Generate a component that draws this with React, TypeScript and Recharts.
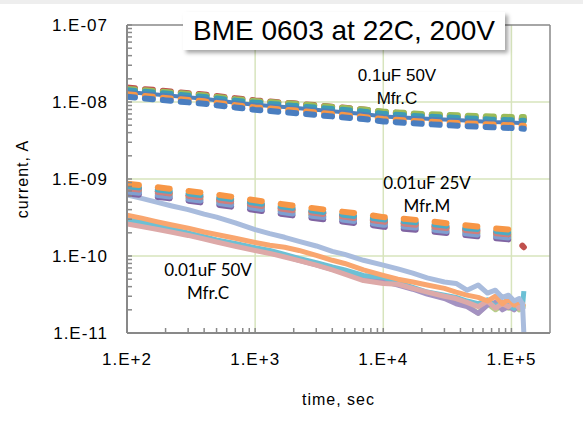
import React from "react";
import { LineChart, Line, XAxis, YAxis, CartesianGrid, ReferenceLine } from "recharts";

// coarse sampling for the dashed (smooth) curves
const coarseTimes = [100, 200, 400, 700, 1000, 2000, 4000, 7000, 10000, 20000, 40000, 70000, 100000, 125000];
// finer sampling for the noisy solid curves
const fineTimes = [
  100, 130, 170, 220, 300, 400, 500, 700, 1000, 1300, 1700, 2200, 3000, 4000, 5000, 7000,
  10000, 13000, 17000, 22000, 30000, 37000, 45000, 55000, 65000, 75000, 85000, 95000, 105000, 115000, 122000, 125000,
];

// 0.1uF 50V Mfr.C
const a1Red = [1.54e-8, 1.39e-8, 1.25e-8, 1.12e-8, 1.05e-8, 9.6e-9, 8.7e-9, 8.0e-9, 7.4e-9, 6.9e-9, 6.5e-9, 6.2e-9, 6.1e-9, 6.0e-9];
const a2Green = [1.48e-8, 1.35e-8, 1.22e-8, 1.09e-8, 1.03e-8, 9.5e-9, 8.6e-9, 8.0e-9, 7.5e-9, 7.0e-9, 6.7e-9, 6.5e-9, 6.4e-9, 6.4e-9];
const a3Teal = [1.42e-8, 1.29e-8, 1.16e-8, 1.04e-8, 9.8e-9, 8.9e-9, 8.1e-9, 7.5e-9, 7.0e-9, 6.5e-9, 6.2e-9, 5.9e-9, 5.8e-9, 5.7e-9];
const a4Blue = [1.35e-8, 1.22e-8, 1.1e-8, 9.8e-9, 9.2e-9, 8.4e-9, 7.6e-9, 7.0e-9, 6.5e-9, 6.1e-9, 5.8e-9, 5.5e-9, 5.4e-9, 5.3e-9];
const a5Orange = [1.26e-8, 1.13e-8, 1.02e-8, 9.1e-9, 8.5e-9, 7.8e-9, 7.0e-9, 6.4e-9, 6.0e-9, 5.6e-9, 5.3e-9, 5.1e-9, 5.0e-9, 4.9e-9];
const a6Blue = [1.17e-8, 1.05e-8, 9.5e-9, 8.5e-9, 7.9e-9, 7.2e-9, 6.5e-9, 6.0e-9, 5.6e-9, 5.2e-9, 4.9e-9, 4.7e-9, 4.6e-9, 4.5e-9];

// 0.01uF 25V Mfr.M
const b1Orange = [8.7e-10, 7.6e-10, 6.6e-10, 5.8e-10, 5.3e-10, 4.5e-10, 3.9e-10, 3.5e-10, 3.2e-10, 2.9e-10, 2.55e-10, 2.3e-10, 2.2e-10, 1.8e-10];
const b2Teal = [8.1e-10, 7.1e-10, 6.1e-10, 5.4e-10, 4.9e-10, 4.2e-10, 3.6e-10, 3.2e-10, 3.0e-10, 2.7e-10, 2.35e-10, 2.15e-10, 2.0e-10, 1.7e-10];
const b3Red = [7.8e-10, 6.7e-10, 5.8e-10, 5.1e-10, 4.7e-10, 4.0e-10, 3.5e-10, 3.05e-10, 2.85e-10, 2.55e-10, 2.25e-10, 2.05e-10, 1.9e-10, 1.3e-10];
const b4Pink = [7.6e-10, 6.6e-10, 5.7e-10, 5.0e-10, 4.6e-10, 3.9e-10, 3.4e-10, 3.0e-10, 2.8e-10, 2.5e-10, 2.2e-10, 2.0e-10, 1.9e-10, 1.55e-10];
const b5Green = [7.2e-10, 6.3e-10, 5.4e-10, 4.75e-10, 4.4e-10, 3.7e-10, 3.2e-10, 2.85e-10, 2.65e-10, 2.35e-10, 2.1e-10, 1.9e-10, 1.8e-10, 1.5e-10];
const b6Blue = [6.9e-10, 6.0e-10, 5.2e-10, 4.55e-10, 4.2e-10, 3.55e-10, 3.1e-10, 2.75e-10, 2.55e-10, 2.3e-10, 2.0e-10, 1.82e-10, 1.73e-10, 1.6e-10];
const b7Purple = [6.5e-10, 5.7e-10, 4.9e-10, 4.3e-10, 3.95e-10, 3.35e-10, 2.9e-10, 2.6e-10, 2.4e-10, 2.15e-10, 1.9e-10, 1.72e-10, 1.63e-10, 1.45e-10];

// 0.01uF 50V Mfr.C
const c1LightBlue = [6.2e-10, 5.6e-10, 5.0e-10, 4.5e-10, 4.0e-10, 3.5e-10, 3.2e-10, 2.7e-10, 2.2e-10, 1.95e-10, 1.75e-10, 1.55e-10, 1.35e-10, 1.15e-10, 1.05e-10, 8.8e-11, 7.6e-11, 6.8e-11, 6.0e-11, 5.2e-11, 4.6e-11, 4.4e-11, 3.6e-11, 4.2e-11, 3.3e-11, 3.6e-11, 2.9e-11, 3.1e-11, 2.6e-11, 2.8e-11, 2.4e-11, 1.0e-11];
const c2Orange = [3.4e-10, 3.1e-10, 2.8e-10, 2.55e-10, 2.3e-10, 2.05e-10, 1.9e-10, 1.7e-10, 1.5e-10, 1.38e-10, 1.3e-10, 1.18e-10, 1.02e-10, 8.8e-11, 8.0e-11, 6.6e-11, 5.6e-11, 5.0e-11, 4.6e-11, 4.2e-11, 3.8e-11, 3.4e-11, 3.1e-11, 2.9e-11, 2.6e-11, 3.0e-11, 2.4e-11, 2.8e-11, 2.3e-11, 2.6e-11, 2.4e-11, 2.2e-11];
const c3Teal = [3.0e-10, 2.75e-10, 2.5e-10, 2.25e-10, 2.0e-10, 1.78e-10, 1.62e-10, 1.45e-10, 1.28e-10, 1.18e-10, 1.05e-10, 9.3e-11, 8.2e-11, 7.2e-11, 6.6e-11, 5.6e-11, 5.3e-11, 4.5e-11, 3.9e-11, 3.4e-11, 3.1e-11, 2.9e-11, 2.6e-11, 2.4e-11, 2.7e-11, 2.2e-11, 2.5e-11, 2.3e-11, 2.1e-11, 2.4e-11, 2.2e-11, 3.5e-11];
const c4Green = [2.9e-10, 2.65e-10, 2.42e-10, 2.2e-10, 1.95e-10, 1.74e-10, 1.58e-10, 1.4e-10, 1.24e-10, 1.13e-10, 1.02e-10, 9.0e-11, 7.9e-11, 6.9e-11, 6.2e-11, 5.3e-11, 4.8e-11, 4.3e-11, 3.8e-11, 3.3e-11, 2.9e-11, 2.6e-11, 2.3e-11, 1.8e-11, 2.4e-11, 2.0e-11, 2.3e-11, 2.1e-11, 2.4e-11, 2.0e-11, 2.3e-11, 2.1e-11];
const c5Purple = [2.8e-10, 2.58e-10, 2.36e-10, 2.14e-10, 1.9e-10, 1.7e-10, 1.55e-10, 1.37e-10, 1.22e-10, 1.1e-10, 1.0e-10, 8.8e-11, 7.7e-11, 6.7e-11, 6.0e-11, 5.1e-11, 4.7e-11, 4.2e-11, 3.7e-11, 3.2e-11, 2.8e-11, 2.4e-11, 2.2e-11, 1.8e-11, 2.3e-11, 2.5e-11, 2.0e-11, 2.2e-11, 2.0e-11, 2.3e-11, 2.1e-11, 2.0e-11];
const c6Pink = [2.6e-10, 2.42e-10, 2.23e-10, 2.05e-10, 1.85e-10, 1.66e-10, 1.52e-10, 1.34e-10, 1.18e-10, 1.08e-10, 9.7e-11, 8.7e-11, 7.6e-11, 6.6e-11, 5.8e-11, 4.8e-11, 4.4e-11, 4.3e-11, 3.8e-11, 3.4e-11, 3.0e-11, 2.8e-11, 2.5e-11, 2.2e-11, 2.6e-11, 2.1e-11, 2.4e-11, 2.2e-11, 2.5e-11, 2.1e-11, 2.3e-11, 2.2e-11];

// axis ticks
const xMajor = [100, 1000, 10000, 100000];
const yMajor = [1e-11, 1e-10, 1e-9, 1e-8, 1e-7];
const minorSteps = [2, 3, 4, 5, 6, 7, 8, 9];
const xTicks = [...xMajor, ...xMajor.slice(0, 3).flatMap((d) => minorSteps.map((m) => m * d))];
const yTicks = [...yMajor, ...yMajor.slice(0, 4).flatMap((d) => minorSteps.map((m) => m * d))];

const rows = (times: number[], values: number[]) => times.map((t, i) => ({ t, v: values[i] }));

const dashedA = [
  { name: "a1", color: "#C0504D", values: a1Red },
  { name: "a2", color: "#9BBB59", values: a2Green },
  { name: "a3", color: "#3D9CB4", values: a3Teal },
  { name: "a5", color: "#F79646", values: a5Orange },
  { name: "a6", color: "#4A7EC0", values: a6Blue },
];
const dashedB = [
  { name: "b5", color: "#9BBB59", values: b5Green },
  { name: "b7", color: "#8064A2", values: b7Purple },
  { name: "b6", color: "#7F9FD0", values: b6Blue },
  { name: "b3", color: "#C0504D", values: b3Red },
  { name: "b4", color: "#D07E7C", values: b4Pink },
  { name: "b2", color: "#4BACC6", values: b2Teal },
  { name: "b1", color: "#F79646", values: b1Orange },
];
const solidC = [
  { name: "c4", color: "#B7CF8A", values: c4Green },
  { name: "c5", color: "#A492C1", values: c5Purple },
  { name: "c3", color: "#6CC0D5", values: c3Teal },
  { name: "c6", color: "#DDA9A8", values: c6Pink },
  { name: "c2", color: "#F9A66F", values: c2Orange },
  { name: "c1", color: "#A9BCDD", values: c1LightBlue },
];

const axisGray = "#898989";
const tickFont = { fontFamily: "'Liberation Sans', Arial, sans-serif", fontSize: 17, letterSpacing: 1, fill: "#000" };

const XTick = (props: any) => {
  const { x, y, payload } = props;
  const v = payload.value;
  const major = xMajor.includes(v);
  return (
    <g>
      <line x1={x} x2={x} y1={y} y2={y - 5} stroke={axisGray} strokeWidth={1.5} />
      {major && (
        <text x={x} y={y + 32} textAnchor="middle" style={tickFont}>
          {`1.E+${Math.round(Math.log10(v))}`}
        </text>
      )}
    </g>
  );
};

const YTick = (props: any) => {
  const { x, y, payload } = props;
  const v = payload.value;
  const major = yMajor.includes(v);
  const exp = -Math.round(Math.log10(v));
  return (
    <g>
      <line x1={x} x2={x + 5} y1={y} y2={y} stroke={axisGray} strokeWidth={1.5} />
      {major && (
        <text x={x - 19} y={y} dy="0.36em" textAnchor="end" style={tickFont}>
          {`1.E-${String(exp).padStart(2, "0")}`}
        </text>
      )}
    </g>
  );
};

const noteStyle = (cx: number, top: number, font: string): React.CSSProperties => ({
  position: "absolute",
  left: cx - 70,
  top,
  width: 140,
  textAlign: "center",
  fontFamily: font,
  fontSize: 17,
  lineHeight: "23px",
  color: "#000",
});

export default function App() {
  return (
    <div style={{ position: "absolute", left: 0, top: 0, width: 583, height: 425, background: "#fff" }}>
      <div style={{ position: "absolute", left: 0, top: 0, width: 583, height: 4, background: "#EEEEEE" }} />
      <LineChart width={583} height={425} margin={{ top: 25, right: 33, bottom: 12, left: 0 }}>
        <CartesianGrid
          stroke="#D7E4BD"
          strokeWidth={1.5}
          horizontalValues={[1e-8, 1e-9, 1e-10]}
          verticalValues={[1000, 10000, 100000]}
        />
        <XAxis
          dataKey="t"
          type="number"
          scale="log"
          domain={[100, 200000]}
          ticks={xTicks}
          interval={0}
          allowDataOverflow
          height={80}
          tickSize={0}
          tickMargin={0}
          tickLine={false}
          tick={<XTick />}
          axisLine={{ stroke: axisGray, strokeWidth: 2 }}
          label={{
            value: "time, sec",
            position: "insideBottom",
            offset: 8,
            style: { fontFamily: "'Liberation Sans', Arial, sans-serif", fontSize: 16, letterSpacing: 1, fill: "#000" },
          }}
        />
        <YAxis
          dataKey="v"
          type="number"
          scale="log"
          domain={[1e-11, 1e-7]}
          ticks={yTicks}
          interval={0}
          allowDataOverflow
          width={127}
          tickSize={0}
          tickMargin={0}
          tickLine={false}
          tick={<YTick />}
          axisLine={{ stroke: axisGray, strokeWidth: 2 }}
          label={{
            value: "current, A",
            angle: -90,
            position: "insideLeft",
            offset: 22,
            style: { textAnchor: "middle", fontFamily: "'Liberation Sans', Arial, sans-serif", fontSize: 16, letterSpacing: 1, fill: "#000" },
          }}
        />
        <ReferenceLine y={1e-7} stroke={axisGray} strokeWidth={1.5} />
        <ReferenceLine x={200000} stroke={axisGray} strokeWidth={1.5} />
        {solidC.map((s) => (
          <Line key={s.name} data={rows(fineTimes, s.values)} dataKey="v" stroke={s.color} strokeWidth={5}
            dot={false} isAnimationActive={false} strokeLinejoin="round" />
        ))}
        {dashedB.map((s) => (
          <Line key={s.name} data={rows(coarseTimes, s.values)} dataKey="v" stroke={s.color} strokeWidth={6}
            strokeDasharray="12 19" strokeLinecap="round" dot={false} isAnimationActive={false} />
        ))}
        {dashedA.slice(0, 3).map((s) => (
          <Line key={s.name} data={rows(coarseTimes, s.values)} dataKey="v" stroke={s.color} strokeWidth={6}
            strokeDasharray="8 10" strokeLinecap="round" dot={false} isAnimationActive={false} />
        ))}
        <Line data={rows(coarseTimes, a4Blue)} dataKey="v" stroke="#4F81BD" strokeWidth={4}
          dot={false} isAnimationActive={false} />
        {dashedA.slice(3).map((s) => (
          <Line key={s.name} data={rows(coarseTimes, s.values)} dataKey="v" stroke={s.color} strokeWidth={6}
            strokeDasharray="8 10" strokeLinecap="round" dot={false} isAnimationActive={false} />
        ))}
      </LineChart>

      <div
        style={{
          position: "absolute",
          left: 183,
          top: 12,
          width: 322,
          height: 38,
          background: "#fff",
          boxShadow: "3px 3px 4px rgba(0,0,0,0.35)",
          fontFamily: "'Liberation Sans', Arial, sans-serif",
          fontSize: 28,
          lineHeight: "38px",
          textAlign: "center",
          color: "#000",
          whiteSpace: "nowrap",
        }}
      >
        BME 0603 at 22C, 200V
      </div>
      <div style={noteStyle(397, 64, "'Liberation Sans', Arial, sans-serif")}>
        0.1uF 50V
        <br />
        Mfr.C
      </div>
      <div style={noteStyle(427, 171, "Lato, sans-serif")}>
        0.01uF 25V
        <br />
        Mfr.M
      </div>
      <div style={noteStyle(208, 258, "Lato, sans-serif")}>
        0.01uF 50V
        <br />
        Mfr.C
      </div>
    </div>
  );
}
